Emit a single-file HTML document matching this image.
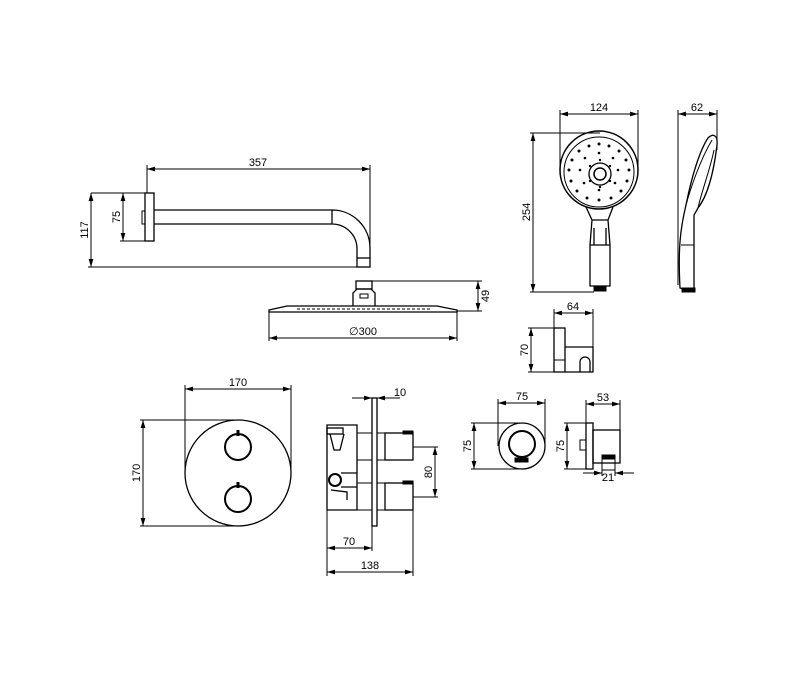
<!DOCTYPE html>
<html><head><meta charset="utf-8"><style>
html,body{margin:0;padding:0;background:#fff;}
svg{display:block;}
text{font-family:"Liberation Sans",sans-serif;font-size:11px;fill:#000;}
</style></head><body>
<svg width="800" height="680" viewBox="0 0 800 680" xmlns="http://www.w3.org/2000/svg">
<defs>
<marker id="a" viewBox="0 0 10 6" refX="10" refY="3" markerWidth="8" markerHeight="5" orient="auto-start-reverse"><path d="M0,0L10,3L0,6z" fill="#000"/></marker>
</defs>
<g stroke="#000" stroke-width="1" fill="none">
<!-- shower arm -->
<line x1="147" y1="169" x2="370" y2="169" marker-start="url(#a)" marker-end="url(#a)"/>
<line x1="147" y1="165" x2="147" y2="193"/>
<line x1="370" y1="165" x2="370" y2="267"/>
<rect x="145" y="193" width="9" height="48" stroke-width="1.3"/>
<rect x="142" y="211" width="3" height="13"/>
<line x1="91" y1="193" x2="145" y2="193"/>
<line x1="120" y1="241" x2="145" y2="241"/>
<line x1="123" y1="193" x2="123" y2="241" marker-start="url(#a)" marker-end="url(#a)"/>
<line x1="91" y1="193" x2="91" y2="267" marker-start="url(#a)" marker-end="url(#a)"/>
<line x1="88" y1="267" x2="370" y2="267"/>
<path d="M154,210 L332,210 A38,38 0 0 1 370,248 L370,258 M154,224 L332,224 A25,25 0 0 1 357,248 L357,258 M332,210 L332,224" stroke-width="1.3"/>
<rect x="357" y="258" width="13" height="9" stroke-width="1.3"/>
<!-- showerhead -->
<rect x="356" y="281" width="16" height="8" stroke-width="1.3"/>
<path d="M353,306 L353,293 L357,289 L371,289 L375,293 L375,306" stroke-width="1.3"/>
<rect x="360" y="294" width="8" height="4"/>
<path d="M269,310 L287,306 L437,306 L457,310 L457,312 L269,312 Z" stroke-width="1.3"/>
<line x1="297" y1="309" x2="430" y2="309" stroke-dasharray="3,2"/>
<line x1="372" y1="281" x2="482" y2="281"/>
<line x1="457" y1="311" x2="482" y2="311"/>
<line x1="478" y1="281" x2="478" y2="311" marker-start="url(#a)" marker-end="url(#a)"/>
<line x1="269" y1="312" x2="269" y2="341"/>
<line x1="457" y1="312" x2="457" y2="341"/>
<line x1="269" y1="338" x2="457" y2="338" marker-start="url(#a)" marker-end="url(#a)"/>
<!-- hand shower -->
<line x1="560" y1="114" x2="638" y2="114" marker-start="url(#a)" marker-end="url(#a)"/>
<line x1="560" y1="110" x2="560" y2="175"/>
<line x1="638" y1="110" x2="638" y2="170"/>
<line x1="533" y1="133" x2="533" y2="292" marker-start="url(#a)" marker-end="url(#a)"/>
<line x1="530" y1="133" x2="600" y2="133"/>
<line x1="530" y1="292" x2="594" y2="292"/>
<circle cx="599" cy="170" r="39" stroke-width="1.5"/>
<circle cx="599" cy="172" r="35"/>
<circle cx="600" cy="174" r="11" stroke-width="1.3"/>
<circle cx="600" cy="174" r="6" stroke-width="1.5"/>
<path d="M586,207 L592,220 L608,220 L613,207 M592,220 L590,245 L590,286 L610,286 L610,245 L608,220 M594,228 L594,245 M606,228 L606,245 M590,245 L610,245" stroke-width="1.3"/>
<rect x="594" y="286" width="12" height="5" fill="#000"/>
<g fill="#000" stroke="none">
<circle cx="599" cy="144" r="1.5"/><circle cx="589" cy="146" r="1.5"/><circle cx="609" cy="146" r="1.5"/><circle cx="579" cy="151" r="1.5"/><circle cx="619" cy="151" r="1.5"/><circle cx="572" cy="160" r="1.5"/><circle cx="626" cy="160" r="1.5"/><circle cx="569" cy="170" r="1.5"/><circle cx="629" cy="170" r="1.5"/><circle cx="571" cy="181" r="1.5"/><circle cx="627" cy="181" r="1.5"/><circle cx="577" cy="191" r="1.5"/><circle cx="621" cy="191" r="1.5"/><circle cx="587" cy="198" r="1.5"/><circle cx="611" cy="198" r="1.5"/><circle cx="599" cy="200" r="1.5"/>
<circle cx="599" cy="153" r="1.3"/><circle cx="585" cy="158" r="1.3"/><circle cx="613" cy="158" r="1.3"/><circle cx="580" cy="170" r="1.3"/><circle cx="618" cy="170" r="1.3"/><circle cx="584" cy="183" r="1.3"/><circle cx="615" cy="183" r="1.3"/><circle cx="599" cy="190" r="1.3"/>
<circle cx="600" cy="160" r="1.2"/><circle cx="590" cy="166" r="1.2"/><circle cx="610" cy="166" r="1.2"/><circle cx="590" cy="181" r="1.2"/><circle cx="610" cy="181" r="1.2"/><circle cx="600" cy="187" r="1.2"/>
</g>
<line x1="678" y1="114" x2="717" y2="114" marker-start="url(#a)" marker-end="url(#a)"/>
<line x1="678" y1="110" x2="678" y2="285"/>
<line x1="717" y1="110" x2="717" y2="150"/>
<path d="M688,290 L680,288 C678,250 680,230 686,205 C692,175 700,150 708,138 C713,133 718,135 717,145 C714,170 708,195 698,208 L694,215 L694,288 Z" stroke-width="1.3"/>
<path d="M686,205 C690,190 700,160 712,140 M698,208 C702,190 710,170 714,150 M681,245 L694,245" />
<rect x="682" y="288" width="13" height="4" fill="#000"/>
<!-- bracket -->
<line x1="554" y1="313" x2="593" y2="313" marker-start="url(#a)" marker-end="url(#a)"/>
<line x1="554" y1="309" x2="554" y2="328"/>
<line x1="593" y1="309" x2="593" y2="347"/>
<line x1="531" y1="328" x2="531" y2="372" marker-start="url(#a)" marker-end="url(#a)"/>
<line x1="528" y1="328" x2="554" y2="328"/>
<line x1="528" y1="372" x2="554" y2="372"/>
<rect x="554" y="328" width="11" height="44" stroke-width="1.3"/>
<line x1="554" y1="360" x2="565" y2="360"/>
<path d="M565,347 L593,347 L593,372 L565,372 M580,372 L580,362 A5,5 0 0 1 590,362 L590,372" stroke-width="1.3"/>
<!-- valve front -->
<line x1="185" y1="389" x2="291" y2="389" marker-start="url(#a)" marker-end="url(#a)"/>
<line x1="185" y1="385" x2="185" y2="472"/>
<line x1="291" y1="385" x2="291" y2="472"/>
<line x1="143" y1="420" x2="143" y2="526" marker-start="url(#a)" marker-end="url(#a)"/>
<line x1="140" y1="420" x2="238" y2="420"/>
<line x1="140" y1="526" x2="238" y2="526"/>
<circle cx="238" cy="473" r="53" stroke-width="1.3"/>
<circle cx="238" cy="447" r="13" stroke-width="2"/>
<circle cx="238" cy="499" r="13" stroke-width="2"/>
<line x1="238" y1="430" x2="238" y2="436" stroke-width="3"/>
<line x1="238" y1="482" x2="238" y2="488" stroke-width="3"/>
<!-- valve side -->
<line x1="352" y1="398" x2="372" y2="398" marker-end="url(#a)"/>
<line x1="400" y1="398" x2="377" y2="398" marker-end="url(#a)"/>
<rect x="372" y="398" width="5" height="128" stroke-width="1.3"/>
<path d="M327,425 L357,425 L357,510 L327,510 Z" stroke-width="1.3"/>
<rect x="327" y="428" width="16" height="6" stroke-width="1.3"/>
<path d="M330,434 L334,450 L340,450 L344,434" stroke-width="1.3"/>
<rect x="357" y="433" width="15" height="27"/>
<rect x="357" y="483" width="15" height="27"/>
<circle cx="335" cy="480" r="6" stroke-width="2"/>
<path d="M341,473 L357,473 M341,487 L357,487 M331,490 L347,492 L347,500" stroke-width="1.3"/>
<rect x="377" y="433" width="8" height="27"/><rect x="385" y="433" width="28" height="27" stroke-width="1.3"/>
<rect x="377" y="483" width="8" height="27"/><rect x="385" y="483" width="28" height="27" stroke-width="1.3"/>
<rect x="403" y="431" width="10" height="3" fill="#000"/>
<rect x="403" y="481" width="10" height="3" fill="#000"/>
<line x1="413" y1="447" x2="438" y2="447"/>
<line x1="413" y1="497" x2="438" y2="497"/>
<line x1="435" y1="447" x2="435" y2="497" marker-start="url(#a)" marker-end="url(#a)"/>
<line x1="327" y1="510" x2="327" y2="576"/>
<line x1="413" y1="510" x2="413" y2="576"/>
<line x1="372" y1="526" x2="372" y2="551"/>
<line x1="327" y1="548" x2="372" y2="548" marker-start="url(#a)" marker-end="url(#a)"/>
<line x1="327" y1="572" x2="413" y2="572" marker-start="url(#a)" marker-end="url(#a)"/>
<!-- wall outlet -->
<line x1="498" y1="403" x2="545" y2="403" marker-start="url(#a)" marker-end="url(#a)"/>
<line x1="498" y1="399" x2="498" y2="446"/>
<line x1="545" y1="399" x2="545" y2="446"/>
<circle cx="522" cy="446" r="23" stroke-width="1.3"/>
<circle cx="522" cy="444" r="13" stroke-width="2"/>
<rect x="515" y="458" width="13" height="4" fill="#000"/>
<line x1="474" y1="423" x2="474" y2="469" marker-start="url(#a)" marker-end="url(#a)"/>
<line x1="471" y1="423" x2="522" y2="423"/>
<line x1="471" y1="469" x2="522" y2="469"/>
<line x1="586" y1="404" x2="620" y2="404" marker-start="url(#a)" marker-end="url(#a)"/>
<line x1="586" y1="400" x2="586" y2="423"/>
<line x1="620" y1="400" x2="620" y2="430"/>
<line x1="567" y1="423" x2="567" y2="469" marker-start="url(#a)" marker-end="url(#a)"/>
<line x1="564" y1="423" x2="586" y2="423"/>
<line x1="564" y1="469" x2="586" y2="469"/>
<rect x="586" y="423" width="7" height="46" stroke-width="1.3"/>
<rect x="593" y="430" width="27" height="33" stroke-width="1.3"/>
<rect x="580" y="440" width="6" height="10"/>
<rect x="602" y="458" width="13" height="12"/>
<rect x="602" y="455" width="13" height="4" fill="#000"/>
<line x1="602" y1="470" x2="602" y2="476"/><line x1="615" y1="470" x2="615" y2="476"/>
<line x1="583" y1="473" x2="602" y2="473" marker-end="url(#a)"/>
<line x1="634" y1="473" x2="615" y2="473" marker-end="url(#a)"/>
</g>
<text x="258" y="166" text-anchor="middle">357</text>
<text transform="translate(123,217) rotate(-90)" text-anchor="middle" dy="-3">75</text>
<text transform="translate(91,230) rotate(-90)" text-anchor="middle" dy="-3">117</text>
<text transform="translate(478,296) rotate(-90)" text-anchor="middle" dy="11">49</text>
<text x="363" y="335" text-anchor="middle">∅300</text>
<text x="599" y="111" text-anchor="middle">124</text>
<text transform="translate(533,212) rotate(-90)" text-anchor="middle" dy="-3">254</text>
<text x="697" y="111" text-anchor="middle">62</text>
<text x="573" y="310" text-anchor="middle">64</text>
<text transform="translate(531,350) rotate(-90)" text-anchor="middle" dy="-3">70</text>
<text x="238" y="386" text-anchor="middle">170</text>
<text transform="translate(143,473) rotate(-90)" text-anchor="middle" dy="-3">170</text>
<text x="400" y="396" text-anchor="middle">10</text>
<text transform="translate(435,472) rotate(-90)" text-anchor="middle" dy="-3">80</text>
<text x="349" y="545" text-anchor="middle">70</text>
<text x="370" y="569" text-anchor="middle">138</text>
<text x="522" y="400" text-anchor="middle">75</text>
<text transform="translate(474,446) rotate(-90)" text-anchor="middle" dy="-3">75</text>
<text x="603" y="401" text-anchor="middle">53</text>
<text transform="translate(567,446) rotate(-90)" text-anchor="middle" dy="-3">75</text>
<text x="608" y="481" text-anchor="middle">21</text>
</svg>
</body></html>
